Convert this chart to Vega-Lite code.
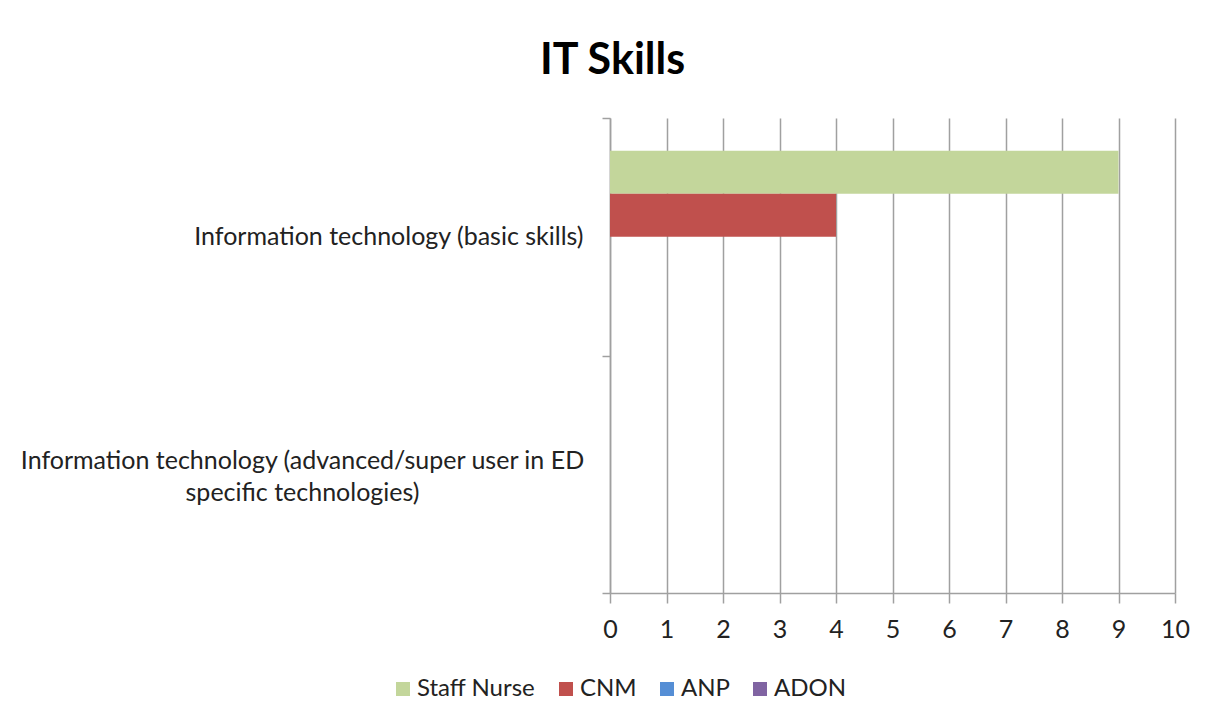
{
  "$schema": "https://vega.github.io/schema/vega-lite/v6.json",
  "width": 565,
  "height": 475,
  "autosize": {"type": "none"},
  "padding": {"left": 610, "top": 118, "right": 44, "bottom": 130},
  "background": "white",
  "title": {"text": "IT Skills", "font": "Lato", "fontSize": 43, "fontWeight": "bold", "color": "#000000", "anchor": "middle", "frame": "group", "dx": -280, "offset": 23},
  "data": {"values": [
    {"skill": "Information technology (basic skills)", "role": "Staff Nurse", "count": 9},
    {"skill": "Information technology (basic skills)", "role": "CNM", "count": 4},
    {"skill": "Information technology (basic skills)", "role": "ANP", "count": 0},
    {"skill": "Information technology (basic skills)", "role": "ADON", "count": 0},
    {"skill": "Information technology (advanced/super user in ED specific technologies)", "role": "Staff Nurse", "count": 0},
    {"skill": "Information technology (advanced/super user in ED specific technologies)", "role": "CNM", "count": 0},
    {"skill": "Information technology (advanced/super user in ED specific technologies)", "role": "ANP", "count": 0},
    {"skill": "Information technology (advanced/super user in ED specific technologies)", "role": "ADON", "count": 0}
  ]},
  "mark": {"type": "bar"},
  "encoding": {
    "y": {
      "field": "skill", "type": "nominal", "sort": null,
      "scale": {"paddingInner": 0, "paddingOuter": 0},
      "axis": {
        "title": null, "tickBand": "extent", "ticks": true, "tickSize": 8, "tickColor": "#A0A0A0", "tickWidth": 1.5,
        "domainColor": "#A0A0A0", "domainWidth": 1.5, "grid": false,
        "labelFont": "Lato", "labelFontSize": 25, "labelColor": "#222222", "labelLimit": 1000,
        "labelLineHeight": 32, "labelBaseline": "middle",
        "labelAlign": {"condition": {"test": "datum.value == 'Information technology (basic skills)'", "value": "right"}, "value": "center"},
        "labelPadding": {"condition": {"test": "datum.value == 'Information technology (basic skills)'", "value": 19}, "value": 300},
        "labelOffset": {"condition": {"test": "datum.value == 'Information technology (basic skills)'", "value": 0}, "value": -14},
        "labelExpr": "datum.value == 'Information technology (advanced/super user in ED specific technologies)' ? ['Information technology (advanced/super user in ED', 'specific technologies)'] : datum.value"
      }
    },
    "yOffset": {"field": "role", "type": "nominal", "sort": ["Staff Nurse", "CNM", "ANP", "ADON"], "scale": {"paddingInner": 0, "paddingOuter": 0.76}},
    "x": {
      "field": "count", "type": "quantitative", "scale": {"domain": [0, 10], "nice": false},
      "axis": {
        "title": null, "values": [0, 1, 2, 3, 4, 5, 6, 7, 8, 9, 10], "grid": true, "gridColor": "#A0A0A0", "gridWidth": 1.5,
        "domainColor": "#A0A0A0", "domainWidth": 1.5, "tickColor": "#A0A0A0", "tickSize": 10, "tickWidth": 1.5,
        "labelFont": "Lato", "labelFontSize": 25, "labelColor": "#222222", "labelPadding": 14,
        "labelFlush": false, "labelOverlap": false, "labelBound": false
      }
    },
    "color": {
      "field": "role", "type": "nominal", "sort": ["Staff Nurse", "CNM", "ANP", "ADON"],
      "scale": {"domain": ["Staff Nurse", "CNM", "ANP", "ADON"], "range": ["#C3D69B", "#C0504D", "#558ED5", "#8064A2"]},
      "legend": {
        "title": null, "orient": "none", "legendX": -219, "legendY": 559, "direction": "horizontal", "columns": 4,
        "symbolType": "square", "symbolSize": 196, "symbolStrokeWidth": 0,
        "labelFont": "Lato", "labelFontSize": 24, "labelColor": "#222222", "columnPadding": 18, "labelOffset": 2
      }
    }
  },
  "config": {"view": {"stroke": null}}
}
